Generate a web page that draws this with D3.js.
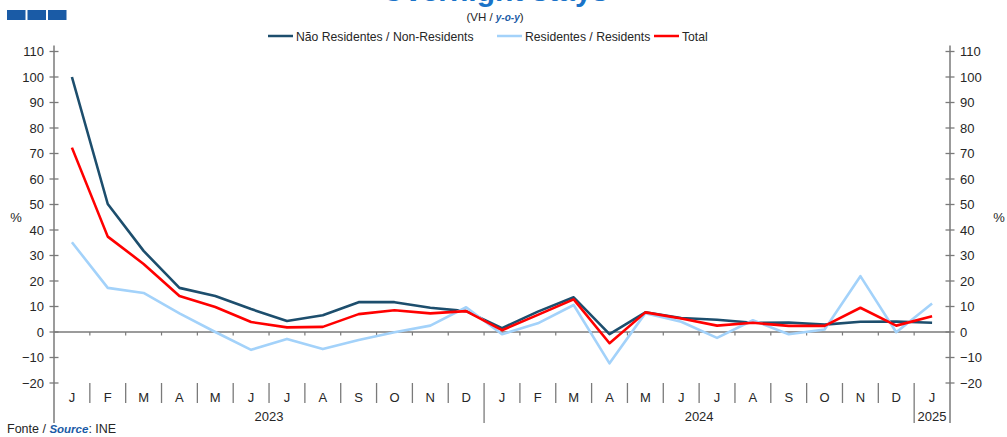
<!DOCTYPE html>
<html>
<head>
<meta charset="utf-8">
<script src="https://cdn.jsdelivr.net/npm/d3@7"></script>
<style>
  html, body { margin: 0; padding: 0; background: #fff; }
  svg { display: block; font-family: "Liberation Sans", Arial, sans-serif; }
</style>
</head>
<body>
<svg id="chart" width="1007" height="437"></svg>
<script>
// Monthly year-on-year change (%), Jan 2023 – Jan 2025
const months = ["J","F","M","A","M","J","J","A","S","O","N","D",
                "J","F","M","A","M","J","J","A","S","O","N","D","J"];
const years = [
  { label: "2023", start: 0, end: 12 },
  { label: "2024", start: 12, end: 24 },
  { label: "2025", start: 24, end: 25 }
];
const nonResidents = [100, 50.2, 31.8, 17.3, 14.1, 9.0, 4.3, 6.6, 11.7, 11.7, 9.5, 8.2,
                      1.5, 8.0, 13.6, -0.8, 7.7, 5.5, 4.8, 3.6, 3.7, 2.9, 4.0, 4.1, 3.6];
const residents    = [35.2, 17.3, 15.3, 7.3, 0.0, -7.0, -2.7, -6.7, -3.1, -0.1, 2.5, 9.7,
                      -0.9, 3.4, 10.6, -12.3, 7.4, 4.0, -2.3, 4.6, -0.9, 1.0, 21.9, -0.1, 11.2];
const total        = [72.3, 37.4, 26.7, 14.1, 9.8, 3.9, 1.8, 2.0, 7.0, 8.5, 7.3, 8.2,
                      0.7, 6.7, 12.8, -4.4, 7.7, 5.3, 2.5, 3.6, 2.4, 2.4, 9.5, 2.5, 6.2];
const yTicks = [-20, -10, 0, 10, 20, 30, 40, 50, 60, 70, 80, 90, 100, 110];

const seriesList = [
  { name: "Não Residentes / Non-Residents", values: nonResidents, color: "#1d4e6d" },
  { name: "Residentes / Residents", values: residents, color: "#a3d2fa" },
  { name: "Total", values: total, color: "#ff0000" }
];

const svg = d3.select("#chart");
const plotLeft = 54, plotRight = 950, plotTop = 51.5, plotBottom = 383;
const axisColor = "#7a7a7a";
const textColor = "#262626";

const x = d3.scaleBand().domain(d3.range(months.length)).range([plotLeft, plotRight]).padding(0);
const y = d3.scaleLinear().domain([-20, 110]).range([plotBottom, plotTop]);

// Header: blue blocks, title, subtitle
svg.selectAll("rect.block").data([0, 1, 2]).enter().append("rect")
  .attr("x", d => 7 + d * 20.5).attr("y", 10).attr("width", 18.5).attr("height", 10)
  .attr("fill", "#1a5ba6");

svg.append("text").attr("x", 495).attr("y", 1).attr("text-anchor", "middle")
  .attr("font-size", 30).attr("font-weight", "bold").attr("fill", "#1a73c8")
  .text("Overnight stays");

const sub = svg.append("text").attr("x", 495).attr("y", 21).attr("text-anchor", "middle")
  .attr("font-size", 11.5).attr("fill", textColor);
sub.append("tspan").text("(VH / ");
sub.append("tspan").attr("font-weight", "bold").attr("font-style", "italic")
  .attr("fill", "#1a5ba6").attr("font-size", 10).text("y-o-y");
sub.append("tspan").text(")");

// Legend
const legendItems = [
  { s: seriesList[0], x: 268 },
  { s: seriesList[1], x: 497 },
  { s: seriesList[2], x: 654 }
];
const lg = svg.append("g");
legendItems.forEach(it => {
  lg.append("line").attr("x1", it.x).attr("x2", it.x + 25).attr("y1", 36).attr("y2", 36)
    .attr("stroke", it.s.color).attr("stroke-width", 2.5);
  lg.append("text").attr("x", it.x + 28).attr("y", 40.5).attr("font-size", 12.2)
    .attr("fill", textColor).text(it.s.name);
});

// Y axes (left and right)
const yLeft = d3.axisLeft(y).tickValues(yTicks).tickSize(0).tickPadding(10);
const yRight = d3.axisRight(y).tickValues(yTicks).tickSize(0).tickPadding(10);

function styleAxis(g) {
  g.select(".domain").remove();
  g.selectAll("text").attr("font-size", 13).attr("fill", textColor)
    .attr("font-family", "Liberation Sans, Arial, sans-serif");
}
svg.append("g").attr("transform", `translate(${plotLeft},0)`).call(yLeft).call(styleAxis);
svg.append("g").attr("transform", `translate(${plotRight},0)`).call(yRight).call(styleAxis);

// cross ticks on both axes
[plotLeft, plotRight].forEach(ax => {
  svg.append("g").selectAll("line").data(yTicks).enter().append("line")
    .attr("x1", ax - 4.5).attr("x2", ax + 4.5)
    .attr("y1", d => y(d)).attr("y2", d => y(d))
    .attr("stroke", axisColor).attr("stroke-width", 1.3);
  svg.append("line").attr("x1", ax).attr("x2", ax).attr("y1", plotTop - 6).attr("y2", 423)
    .attr("stroke", axisColor).attr("stroke-width", 1.5);
});

svg.append("text").attr("x", 16).attr("y", 222).attr("text-anchor", "middle")
  .attr("font-size", 13).attr("fill", textColor).text("%");
svg.append("text").attr("x", 999).attr("y", 222).attr("text-anchor", "middle")
  .attr("font-size", 13).attr("fill", textColor).text("%");

// Zero line with small ticks at month boundaries
svg.append("line").attr("x1", plotLeft).attr("x2", plotRight).attr("y1", y(0)).attr("y2", y(0))
  .attr("stroke", axisColor).attr("stroke-width", 1.5);
svg.append("g").selectAll("line").data(d3.range(1, months.length)).enter().append("line")
  .attr("x1", i => x(i)).attr("x2", i => x(i))
  .attr("y1", y(0)).attr("y2", y(0) + 3.5)
  .attr("stroke", axisColor).attr("stroke-width", 1.2);

// Category labels: month separators, month letters, years
const yearStarts = new Set(years.map(d => d.start).filter(d => d > 0));
svg.append("g").selectAll("line").data(d3.range(1, months.length)).enter().append("line")
  .attr("x1", i => x(i)).attr("x2", i => x(i))
  .attr("y1", plotBottom).attr("y2", i => yearStarts.has(i) ? 423 : 403)
  .attr("stroke", axisColor).attr("stroke-width", 1.3);

svg.append("g").selectAll("text").data(months).enter().append("text")
  .attr("x", (d, i) => x(i) + x.bandwidth() / 2).attr("y", 401.5)
  .attr("text-anchor", "middle").attr("font-size", 13).attr("fill", textColor)
  .text(d => d);

svg.append("g").selectAll("text").data(years).enter().append("text")
  .attr("x", d => (x(d.start) + x(d.end - 1) + x.bandwidth()) / 2).attr("y", 421)
  .attr("text-anchor", "middle").attr("font-size", 13).attr("fill", textColor)
  .text(d => d.label);

// Series lines
const line = d3.line()
  .x((d, i) => x(i) + x.bandwidth() / 2)
  .y(d => y(d));

svg.append("g").selectAll("path").data(seriesList).enter().append("path")
  .attr("d", d => line(d.values))
  .attr("fill", "none")
  .attr("stroke", d => d.color)
  .attr("stroke-width", 2.6)
  .attr("stroke-linejoin", "round");

// Source note
const src = svg.append("text").attr("x", 7).attr("y", 433).attr("font-size", 12.5).attr("fill", textColor);
src.append("tspan").text("Fonte / ");
src.append("tspan").attr("font-weight", "bold").attr("font-style", "italic")
  .attr("fill", "#1a5ba6").attr("font-size", 11.5).text("Source");
src.append("tspan").text(": INE");
</script>
</body>
</html>
